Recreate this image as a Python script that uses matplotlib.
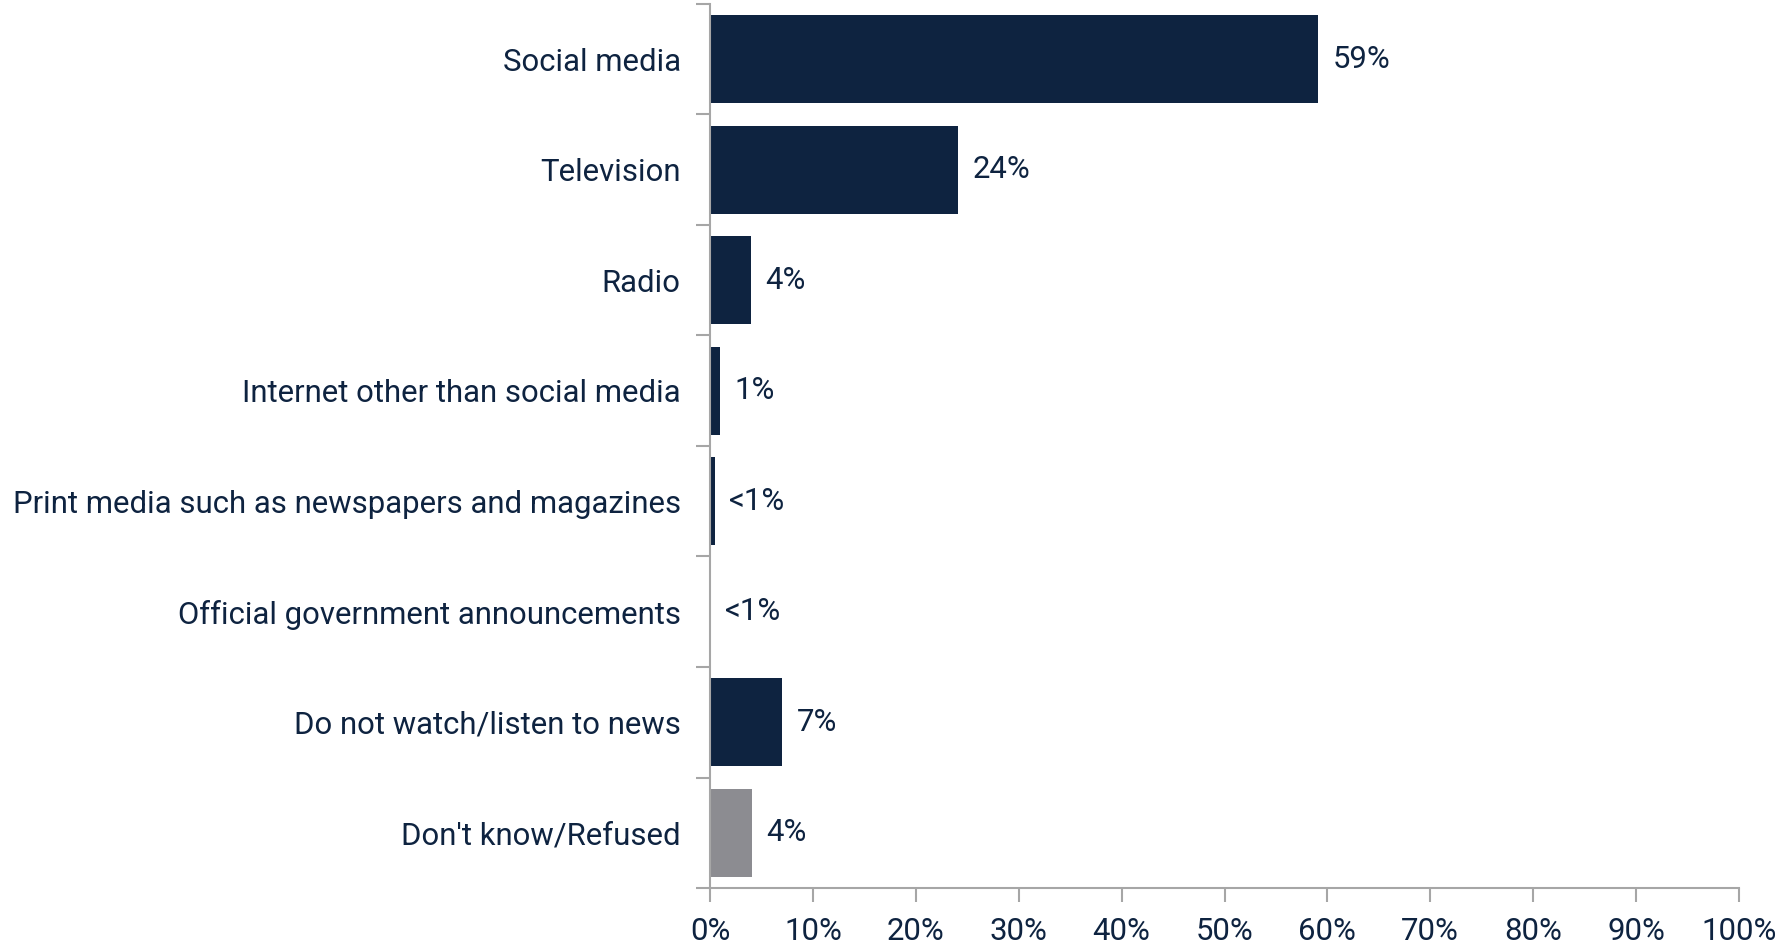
import matplotlib.pyplot as plt
import numpy as np

plt.rcParams["font.family"] = ["Roboto", "DejaVu Sans"]

categories = [
    "Social media",
    "Television",
    "Radio",
    "Internet other than social media",
    "Print media such as newspapers and magazines",
    "Official government announcements",
    "Do not watch/listen to news",
    "Don't know/Refused",
]
values = [59.1, 24.1, 4.0, 1.0, 0.45, 0.0, 7.0, 4.1]
value_labels = ["59%", "24%", "4%", "1%", "<1%", "<1%", "7%", "4%"]
bar_colors = ["#0E2340"] * 7 + ["#8C8C91"]
x_ticks = list(range(0, 101, 10))

text_color = "#0E2340"
spine_color = "#A6A6A6"
fs = 22.4

fig = plt.figure(figsize=(17.75, 9.46), dpi=100)
ax = fig.add_axes([710 / 1775, 58 / 946, (1739 - 710) / 1775, (888 - 4) / 946])

y = np.arange(len(categories))
ax.barh(y, values, height=0.8, color=bar_colors)

for yi, v, lab in zip(y, values, value_labels):
    ax.text(v + 1.4, yi, lab, va="center", ha="left", fontsize=fs, color=text_color)

ax.set_xlim(0, 100)
ax.set_ylim(len(categories) - 0.5, -0.5)
ax.set_xticks(x_ticks)
ax.set_xticklabels([f"{t}%" for t in x_ticks], fontsize=fs, color=text_color)

# category labels centered, tick marks between categories
ax.set_yticks(y)
ax.set_yticklabels(categories, fontsize=fs, color=text_color)
ax.tick_params(axis="y", which="major", length=0, pad=21)
ax.set_yticks(np.arange(-0.5, len(categories)), minor=True)
ax.tick_params(axis="y", which="minor", length=10, width=1.5, color=spine_color, direction="out")
ax.tick_params(axis="x", length=10, width=1.5, color=spine_color, direction="out", pad=11)

for side in ["top", "right"]:
    ax.spines[side].set_visible(False)
for side in ["left", "bottom"]:
    ax.spines[side].set_color(spine_color)
    ax.spines[side].set_linewidth(1.5)

fig.savefig("out.png", dpi=100)
